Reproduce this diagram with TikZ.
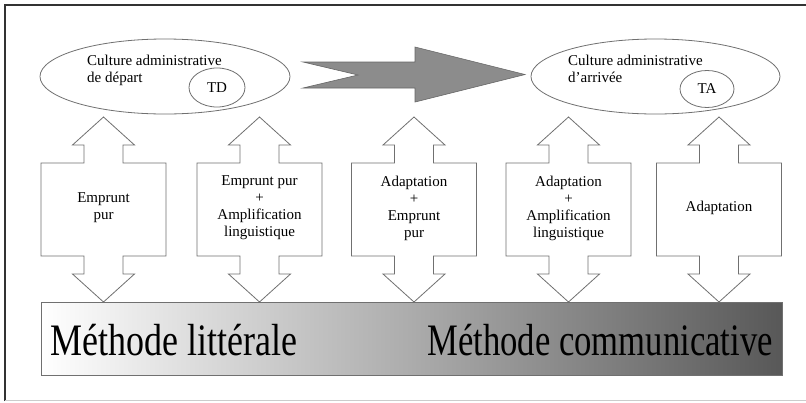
\documentclass[tikz,border=0pt]{standalone}
\usepackage{fontspec}
\setmainfont{Liberation Serif}
\usepackage{graphicx}
\usetikzlibrary{shapes.geometric}
\definecolor{edge}{HTML}{707070}
\definecolor{arrowfill}{HTML}{8C8C8C}
\definecolor{barright}{HTML}{585858}
\tikzset{
  lbl/.style={font=\fontsize{15}{17}\selectfont, inner sep=0pt, text=black},
  boxlbl/.style={lbl, align=center},
  cult/.style={draw=edge, shape=ellipse, inner sep=0pt, line width=0.8pt},
  callout/.style={draw=edge, fill=white, line width=0.8pt, line join=miter},
  big/.style={font=\fontsize{45}{50}\selectfont, inner sep=0pt, text=black}
}
\begin{document}
\begin{tikzpicture}[x=1pt,y=-1pt]
\useasboundingbox (0,0) rectangle (806,402);
\fill[white] (0,0) rectangle (806,402);
% frame
\draw[line width=2.5pt, color=black!80] (5,401) -- (5,5) -- (806,5);
\draw[line width=0.8pt, color=black!20] (5,400.5) -- (806,400.5);

% culture ellipses
\node[cult, minimum width=250pt, minimum height=75pt] (dep) at (165,76.5) {};
\node[cult, minimum width=56pt, minimum height=39pt] (td) at (217,87.5) {};
\node[lbl] at (td) {TD};
\node[lbl, anchor=base west] (dep1) at (87,65) {Culture administrative};
\node[lbl, anchor=base west] (dep2) at (87,82) {de départ};

\node[cult, minimum width=249pt, minimum height=75pt] (arr) at (655.5,76.5) {};
\node[cult, minimum width=54pt, minimum height=37pt] (ta) at (707,89) {};
\node[lbl] at (ta) {TA};
\node[lbl, anchor=base west] (arr1) at (568,65) {Culture administrative};
\node[lbl, anchor=base west] (arr2) at (568,82) {d’arrivée};

% big grey arrow
\draw[fill=arrowfill, draw=black!60, line width=0.6pt, line join=miter]
  (303,62) -- (415,62) -- (415,47) -- (525,74.5) -- (415,102) -- (415,88)
  -- (303,88) -- (358,75) -- cycle;

% double-arrow callouts
\foreach \cx/\name in {103.5/a, 259.5/b, 414/c, 568.5/d, 719/e}{
  \draw[callout]
    (\cx,117) -- (\cx+31,145) -- (\cx+19.5,145) -- (\cx+19.5,163)
    -- (\cx+62.5,163) -- (\cx+62.5,256) -- (\cx+19.5,256) -- (\cx+19.5,274)
    -- (\cx+31,274) -- (\cx,302) -- (\cx-31,274) -- (\cx-19.5,274)
    -- (\cx-19.5,256) -- (\cx-62.5,256) -- (\cx-62.5,163) -- (\cx-19.5,163)
    -- (\cx-19.5,145) -- (\cx-31,145) -- cycle;
  \coordinate (\name) at (\cx,208);
}
\node[boxlbl] (ta1) at (a) {Emprunt\\pur};
\node[boxlbl] (tb1) at (b) {Emprunt pur\\+\\Amplification\\linguistique};
\node[boxlbl] (tc1) at (c) {Adaptation\\+\\Emprunt\\pur};
\node[boxlbl] (td1) at (d) {Adaptation\\+\\Amplification\\linguistique};
\node[boxlbl] (te1) at (e) {Adaptation};

% bottom gradient bar
\shade[left color=white, right color=barright] (41,302) rectangle (782,375);
\draw[draw=edge, line width=0.8pt] (41,302) rectangle (782,375);
\node[big, anchor=base west] (lit) at (50,355) {\scalebox{0.8}[1]{Méthode littérale}};
\node[big, anchor=base east] (com) at (773,355) {\scalebox{0.77}[1]{Méthode communicative}};
\end{tikzpicture}
\end{document}
